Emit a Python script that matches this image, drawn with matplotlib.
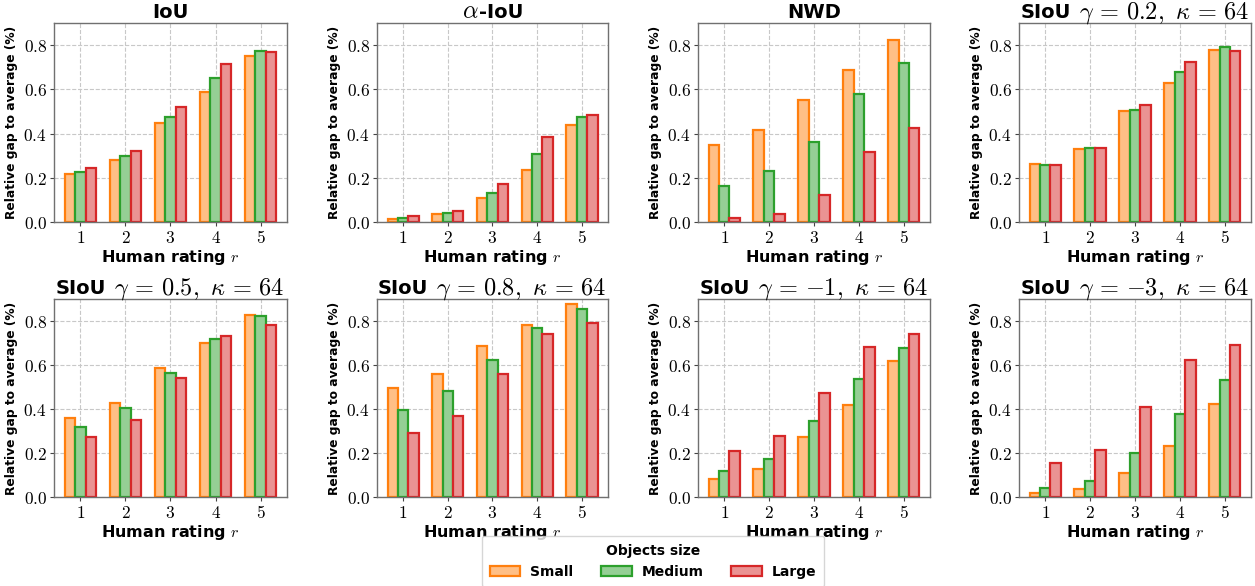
import matplotlib
matplotlib.use("Agg")
import matplotlib.pyplot as plt
import matplotlib.transforms as mtransforms
import numpy as np
from matplotlib.ticker import FormatStrFormatter
from matplotlib.patches import Patch

plt.rcParams['mathtext.fontset'] = 'cm'
plt.rcParams['font.family'] = ['DejaVu Sans']

ratings = [1, 2, 3, 4, 5]
sizes = ["Small", "Medium", "Large"]
# each title is a list of (piece, kind): "t" = bold sans text, "m" = math
titles = [
    [("IoU", "t")],
    [(r"$\alpha$", "m"), ("-IoU", "t")],
    [("NWD", "t")],
    [("SIoU", "t"), (r"$\gamma\,=\,0.2,\ \kappa\,=\,64$", "m")],
    [("SIoU", "t"), (r"$\gamma\,=\,0.5,\ \kappa\,=\,64$", "m")],
    [("SIoU", "t"), (r"$\gamma\,=\,0.8,\ \kappa\,=\,64$", "m")],
    [("SIoU", "t"), (r"$\gamma\,=\,{-1},\ \kappa\,=\,64$", "m")],
    [("SIoU", "t"), (r"$\gamma\,=\,{-3},\ \kappa\,=\,64$", "m")],
]

iou_small = [0.216, 0.280, 0.450, 0.586, 0.750]
iou_medium = [0.225, 0.300, 0.477, 0.653, 0.773]
iou_large = [0.246, 0.323, 0.520, 0.715, 0.770]

alpha_small = [0.015, 0.038, 0.109, 0.235, 0.438]
alpha_medium = [0.018, 0.042, 0.129, 0.309, 0.474]
alpha_large = [0.027, 0.052, 0.171, 0.386, 0.482]

nwd_small = [0.348, 0.417, 0.553, 0.686, 0.824]
nwd_medium = [0.161, 0.232, 0.364, 0.577, 0.720]
nwd_large = [0.017, 0.038, 0.123, 0.318, 0.424]

siou02_small = [0.264, 0.332, 0.500, 0.627, 0.779]
siou02_medium = [0.258, 0.336, 0.508, 0.679, 0.791]
siou02_large = [0.259, 0.336, 0.527, 0.724, 0.773]

siou05_small = [0.361, 0.429, 0.586, 0.700, 0.827]
siou05_medium = [0.320, 0.403, 0.562, 0.720, 0.823]
siou05_large = [0.275, 0.352, 0.542, 0.730, 0.782]

siou08_small = [0.495, 0.557, 0.687, 0.780, 0.878]
siou08_medium = [0.395, 0.480, 0.623, 0.768, 0.854]
siou08_large = [0.291, 0.370, 0.558, 0.741, 0.791]

siou_m1_small = [0.083, 0.128, 0.273, 0.420, 0.616]
siou_m1_medium = [0.118, 0.175, 0.347, 0.537, 0.679]
siou_m1_large = [0.210, 0.279, 0.475, 0.681, 0.741]

siou_m3_small = [0.017, 0.038, 0.109, 0.231, 0.424]
siou_m3_medium = [0.039, 0.072, 0.198, 0.376, 0.531]
siou_m3_large = [0.155, 0.214, 0.408, 0.622, 0.691]

panels = [
    (iou_small, iou_medium, iou_large),
    (alpha_small, alpha_medium, alpha_large),
    (nwd_small, nwd_medium, nwd_large),
    (siou02_small, siou02_medium, siou02_large),
    (siou05_small, siou05_medium, siou05_large),
    (siou08_small, siou08_medium, siou08_large),
    (siou_m1_small, siou_m1_medium, siou_m1_large),
    (siou_m3_small, siou_m3_medium, siou_m3_large),
]

edge_colors = ["#ff7f0e", "#2ca02c", "#d62728"]
face_colors = ["#ffbf86", "#95cf95", "#ea9393"]

fig = plt.figure(figsize=(12.55, 5.86), dpi=100)
renderer = fig.canvas.get_renderer()
W, H = 1255, 586
lefts = [54, 377, 698, 1019]
widths = [233, 231, 232, 232]
rows = [(23, 222), (299, 497)]

x = np.array(ratings, dtype=float)
bw = 0.7 / 3
for i, (title, data) in enumerate(zip(titles, panels)):
    r, c = divmod(i, 4)
    top, bot = rows[r]
    ax = fig.add_axes([lefts[c] / W, 1 - bot / H, widths[c] / W, (bot - top) / H])
    ax.set_axisbelow(True)
    for k, vals in enumerate(data):
        ax.bar(x + (k - 1) * bw, vals, width=bw, facecolor=face_colors[k],
               edgecolor=edge_colors[k], linewidth=1.6, label=sizes[k])
    ax.set_ylim(0, 0.9)
    ax.set_xticks(ratings)
    ax.xaxis.set_major_formatter(FormatStrFormatter('$%d$'))
    ax.set_yticks([0.0, 0.2, 0.4, 0.6, 0.8])
    ax.yaxis.set_major_formatter(FormatStrFormatter('$%.1f$'))
    ax.tick_params(labelsize=12.5, length=3, color='#444444', pad=2)
    ax.grid(True, linestyle='--', color='#c8c8c8', linewidth=0.8)
    for s in ax.spines.values():
        s.set_color('#707070')
        s.set_linewidth(1.0)

    # title built from pieces with baseline alignment, centred over the axes
    texts = []
    for txt, kind in title:
        if kind == "t":
            t = ax.text(0.5, 1.0, txt, fontsize=14, fontweight='bold',
                        va='baseline', ha='left', transform=ax.transAxes)
        else:
            t = ax.text(0.5, 1.0, txt, fontsize=17.5,
                        va='baseline', ha='left', transform=ax.transAxes)
        texts.append((t, kind))
    gaps = []
    for j in range(len(texts) - 1):
        gaps.append(8 if (texts[j][1] == "t" and texts[j + 1][1] == "m") else 0)
    ws = [t.get_window_extent(renderer).width for t, _ in texts]
    total = sum(ws) + sum(gaps)
    xo = -total / 2
    for j, (t, _) in enumerate(texts):
        t.set_transform(mtransforms.offset_copy(ax.transAxes, fig=fig, x=xo, y=5, units='dots'))
        xo += ws[j] + (gaps[j] if j < len(gaps) else 0)

    ax.set_xlabel(r"Human rating $r$", fontsize=11.5, fontweight='bold', labelpad=1)
    ax.set_ylabel("Relative gap to average (%)", fontsize=8.8, fontweight='bold', labelpad=4)

handles = [Patch(facecolor=face_colors[k], edgecolor=edge_colors[k], linewidth=1.6)
           for k in range(3)]
leg = fig.legend(handles, sizes, loc='lower center', bbox_to_anchor=(653 / W, -0.014),
                 ncol=3, title="Objects size", frameon=True,
                 title_fontproperties={'weight': 'bold', 'size': 10},
                 prop={'weight': 'bold', 'size': 10}, columnspacing=2.0,
                 handlelength=2.2, handletextpad=0.7, borderpad=0.6)
leg.get_frame().set_edgecolor('#cccccc')

fig.savefig("out.png", dpi=100)
